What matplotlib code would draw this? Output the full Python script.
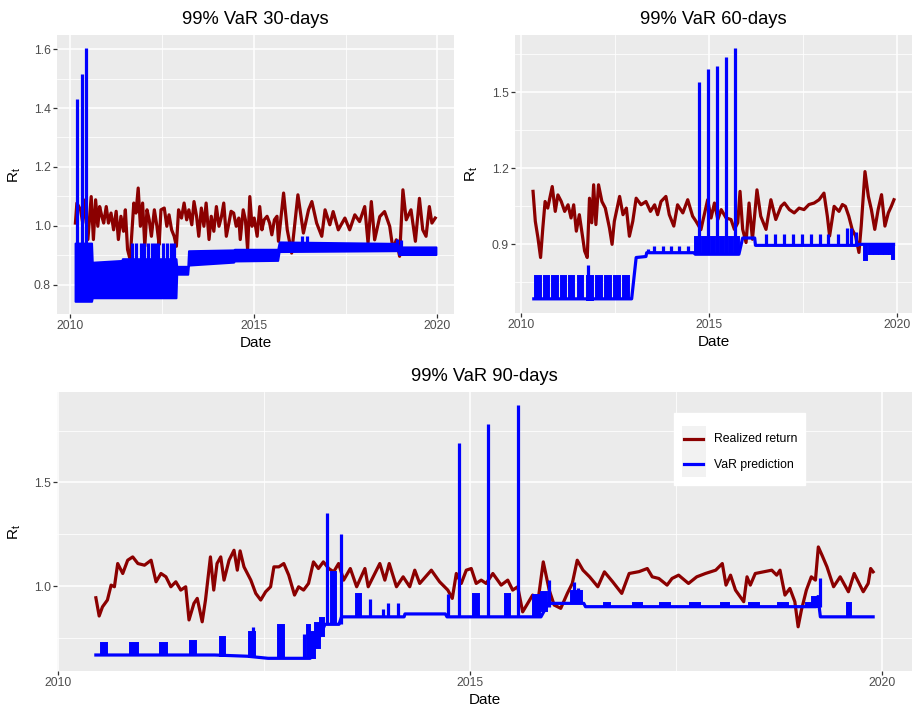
import numpy as np
import matplotlib
matplotlib.use("Agg")
import matplotlib.pyplot as plt
from matplotlib.lines import Line2D
from matplotlib.patches import Rectangle
from matplotlib.legend_handler import HandlerBase
from matplotlib.ticker import FixedLocator, FormatStrFormatter

plt.rcParams['font.family'] = ['Liberation Sans', 'DejaVu Sans']
plt.rcParams['mathtext.fontset'] = 'custom'
plt.rcParams['mathtext.rm'] = 'Liberation Sans'
plt.rcParams['mathtext.it'] = 'Liberation Sans:italic'

RED = '#8B0000'
BLUE = '#0000FF'

# ---------------- 30-day window ----------------
r30_t = [2010.14, 2010.18, 2010.28, 2010.34, 2010.41, 2010.48, 2010.57, 2010.63, 2010.69, 2010.75,
         2010.80, 2010.86, 2010.91, 2010.98, 2011.04, 2011.11, 2011.18, 2011.25, 2011.31, 2011.38,
         2011.45, 2011.50, 2011.56, 2011.63, 2011.73, 2011.79, 2011.85, 2011.91, 2011.97, 2012.03,
         2012.09, 2012.15, 2012.21, 2012.29, 2012.36, 2012.42, 2012.47, 2012.56, 2012.63, 2012.69,
         2012.76, 2012.83, 2012.89, 2012.95, 2013.03, 2013.10, 2013.17, 2013.23, 2013.31, 2013.37,
         2013.44, 2013.50, 2013.57, 2013.64, 2013.70, 2013.78, 2013.84, 2013.91, 2013.98, 2014.05,
         2014.12, 2014.18, 2014.25, 2014.32, 2014.38, 2014.45, 2014.52, 2014.59, 2014.63, 2014.71,
         2014.77, 2014.83, 2014.89, 2014.95, 2015.01, 2015.09, 2015.16, 2015.22, 2015.28, 2015.36,
         2015.43, 2015.49, 2015.56, 2015.63, 2015.67, 2015.81, 2015.91, 2016.03, 2016.20, 2016.35,
         2016.49, 2016.58, 2016.71, 2016.85, 2016.94, 2017.07, 2017.16, 2017.30, 2017.48, 2017.61,
         2017.75, 2017.88, 2018.02, 2018.11, 2018.20, 2018.29, 2018.43, 2018.56, 2018.70, 2018.79,
         2018.88, 2018.97, 2019.06, 2019.15, 2019.28, 2019.40, 2019.51, 2019.60, 2019.69, 2019.78,
         2019.85, 2019.94]
r30_v = [1.009, 1.077, 1.054, 1.009, 1.088, 0.953, 1.099, 0.953, 1.088, 0.998,
         1.065, 1.032, 1.009, 1.065, 1.009, 1.043, 0.986, 1.049, 0.953, 1.032,
         0.981, 1.054, 0.919, 0.885, 1.077, 1.043, 1.128, 0.998, 1.077, 0.930,
         1.054, 1.020, 0.964, 1.054, 0.998, 0.936, 1.054, 1.060, 0.998, 1.037,
         0.986, 0.964, 0.930, 1.054, 1.026, 1.077, 1.020, 1.054, 1.003, 1.082,
         1.032, 0.964, 1.060, 0.998, 1.077, 0.953, 1.032, 0.981, 1.065, 0.998,
         1.032, 1.077, 0.964, 1.009, 1.049, 1.043, 0.998, 1.026, 0.953, 1.054,
         1.020, 0.919, 1.099, 0.998, 1.026, 0.964, 1.065, 0.986, 1.020, 1.032,
         1.009, 0.969, 1.020, 1.032, 0.947, 1.111, 0.986, 0.907, 1.105, 0.975,
         1.054, 1.082, 1.009, 0.964, 1.054, 1.003, 1.048, 0.986, 1.026, 0.986,
         1.037, 1.014, 1.065, 0.941, 1.082, 0.952, 1.031, 1.048, 0.998, 0.919,
         0.952, 0.896, 1.122, 1.020, 1.054, 0.947, 1.093, 0.986, 0.964, 1.065,
         1.009, 1.026]

# envelope of the fast-oscillating 30-day VaR path
band30_t = [2010.13, 2010.58, 2010.60, 2011.40, 2011.42, 2012.88, 2012.90, 2013.20,
            2013.22, 2014.45, 2014.47, 2015.65, 2015.69, 2018.92, 2018.95, 2019.96]
band30_lo = [0.743, 0.743, 0.755, 0.755, 0.755, 0.755, 0.835, 0.835,
             0.866, 0.876, 0.880, 0.882, 0.912, 0.915, 0.902, 0.902]
band30_hi = [0.941, 0.941, 0.876, 0.882, 0.888, 0.888, 0.862, 0.862,
             0.915, 0.918, 0.920, 0.920, 0.945, 0.940, 0.928, 0.928]

spike30_t = [2010.18, 2010.32, 2010.44, 2011.68, 2011.80, 2011.92, 2012.02, 2012.11, 2012.22,
             2012.31, 2012.40, 2012.52, 2012.64, 2012.75, 2012.82, 2016.32, 2016.46, 2018.90, 2019.01]
spike30_lo = [0.743, 0.743, 0.743, 0.888, 0.888, 0.888, 0.888, 0.888, 0.888,
              0.888, 0.888, 0.888, 0.888, 0.888, 0.888, 0.945, 0.945, 0.940, 0.928]
spike30_hi = [1.430, 1.517, 1.605, 0.941, 0.941, 0.941, 0.941, 0.941, 0.941,
              0.941, 0.941, 0.941, 0.941, 0.941, 0.941, 0.964, 0.964, 0.955, 0.950]

# ---------------- 60-day window ----------------
r60_t = [2010.33, 2010.39, 2010.46, 2010.53, 2010.59, 2010.65, 2010.72, 2010.84, 2010.92, 2010.99,
         2011.08, 2011.17, 2011.26, 2011.34, 2011.41, 2011.48, 2011.56, 2011.65, 2011.70, 2011.77,
         2011.83, 2011.89, 2011.94, 2012.00, 2012.07, 2012.16, 2012.25, 2012.36, 2012.43, 2012.49,
         2012.63, 2012.72, 2012.81, 2012.89, 2012.98, 2013.07, 2013.20, 2013.33, 2013.45, 2013.56,
         2013.64, 2013.73, 2013.86, 2013.95, 2014.07, 2014.17, 2014.31, 2014.44, 2014.57, 2014.66,
         2014.79, 2014.97, 2015.06, 2015.15, 2015.24, 2015.33, 2015.46, 2015.59, 2015.68, 2015.77,
         2015.83, 2015.90, 2015.99, 2016.07, 2016.16, 2016.28, 2016.38, 2016.52, 2016.65, 2016.78,
         2016.92, 2017.01, 2017.14, 2017.27, 2017.40, 2017.53, 2017.66, 2017.80, 2017.93, 2018.06,
         2018.15, 2018.21, 2018.33, 2018.46, 2018.55, 2018.63, 2018.72, 2018.81, 2018.90, 2018.99,
         2019.05, 2019.15, 2019.24, 2019.32, 2019.41, 2019.50, 2019.59, 2019.68, 2019.77, 2019.85,
         2019.92]
r60_v = [1.109, 0.991, 0.926, 0.848, 0.965, 1.069, 1.043, 1.128, 1.030, 1.095,
         1.069, 1.030, 1.056, 1.004, 1.056, 0.952, 1.017, 0.926, 0.874, 0.848,
         1.082, 0.985, 1.135, 0.978, 1.135, 1.069, 1.043, 0.965, 0.900, 0.991,
         1.089, 1.017, 1.043, 0.932, 0.991, 1.082, 1.056, 1.069, 1.030, 1.056,
         1.017, 1.069, 1.089, 1.017, 0.972, 1.056, 1.024, 1.076, 1.011, 0.991,
         0.958, 1.076, 1.004, 1.063, 0.998, 1.037, 1.004, 0.998, 0.959, 0.985,
         1.109, 0.959, 0.907, 1.063, 0.920, 1.115, 1.011, 0.959, 1.076, 0.998,
         1.050, 1.063, 1.037, 1.024, 1.043, 1.037, 1.057, 1.063, 1.076, 1.102,
         1.011, 0.933, 1.050, 1.030, 1.057, 1.050, 1.011, 0.959, 0.933, 0.868,
         0.972, 1.187, 1.089, 1.037, 0.959, 1.037, 1.096, 0.972, 1.024, 1.050,
         1.076]

var60_t = [2010.35, 2012.95, 2013.02, 2013.07, 2013.33, 2013.35, 2014.62, 2014.64,
           2015.80, 2015.90, 2016.22, 2016.24, 2018.96, 2018.98, 2019.91]
var60_v = [0.685, 0.685, 0.780, 0.848, 0.852, 0.867, 0.867, 0.861,
           0.861, 0.925, 0.925, 0.896, 0.896, 0.900, 0.900]

block60_start = [2010.39, 2010.62, 2010.84, 2011.06, 2011.28, 2011.52, 2011.77, 2012.01, 2012.25,
                 2012.48, 2012.71, 2014.64, 2014.82, 2015.06, 2015.30, 2015.53, 2015.72,
                 2019.12, 2019.26, 2019.40, 2019.53, 2019.66, 2019.79, 2019.86]
block60_end = [2010.53, 2010.76, 2010.99, 2011.21, 2011.43, 2011.67, 2011.92, 2012.16, 2012.41,
               2012.63, 2012.89, 2014.75, 2014.94, 2015.17, 2015.41, 2015.65, 2015.80,
               2019.21, 2019.36, 2019.49, 2019.62, 2019.75, 2019.86, 2019.91]
block60_lo = [0.685, 0.685, 0.685, 0.685, 0.685, 0.685, 0.679, 0.685, 0.685,
              0.685, 0.685, 0.861, 0.861, 0.861, 0.861, 0.861, 0.861,
              0.839, 0.861, 0.861, 0.861, 0.861, 0.861, 0.844]
block60_hi = [0.776, 0.776, 0.776, 0.776, 0.776, 0.776, 0.776, 0.776, 0.776,
              0.776, 0.776, 0.930, 0.930, 0.930, 0.930, 0.930, 0.930,
              0.900, 0.900, 0.900, 0.900, 0.900, 0.900, 0.900]

spike60_t = [2011.79, 2013.38, 2013.55, 2013.78, 2014.00, 2014.22, 2014.44,
             2014.74, 2014.98, 2015.22, 2015.45, 2015.69,
             2016.53, 2016.76, 2017.00, 2017.24, 2017.47, 2017.71, 2017.95, 2018.18,
             2018.42, 2018.66, 2018.77, 2018.90]
spike60_lo = [0.679, 0.867, 0.867, 0.867, 0.867, 0.867, 0.867,
              0.861, 0.861, 0.861, 0.861, 0.861,
              0.896, 0.896, 0.896, 0.896, 0.896, 0.896, 0.896, 0.896,
              0.896, 0.896, 0.896, 0.896]
spike60_hi = [0.817, 0.880, 0.893, 0.893, 0.893, 0.893, 0.893,
              1.539, 1.591, 1.602, 1.640, 1.676,
              0.939, 0.939, 0.939, 0.939, 0.939, 0.939, 0.939, 0.939,
              0.939, 0.965, 0.965, 0.950]

# ---------------- 90-day window ----------------
r90_t = [2010.46, 2010.50, 2010.54, 2010.60, 2010.645, 2010.685, 2010.725, 2010.786, 2010.846, 2010.907,
         2010.97, 2011.05, 2011.13, 2011.19, 2011.25, 2011.31, 2011.37, 2011.43, 2011.49, 2011.55,
         2011.59, 2011.65, 2011.69, 2011.75, 2011.79, 2011.85, 2011.89, 2011.93, 2011.975, 2012.015,
         2012.076, 2012.136, 2012.176, 2012.21, 2012.257, 2012.34, 2012.40, 2012.46, 2012.52, 2012.58,
         2012.62, 2012.68, 2012.74, 2012.80, 2012.87, 2012.92, 2012.98, 2013.04, 2013.10, 2013.16,
         2013.22, 2013.285, 2013.345, 2013.405, 2013.466, 2013.547, 2013.624, 2013.724, 2013.764, 2013.845,
         2013.905, 2013.966, 2014.019, 2014.107, 2014.188, 2014.268, 2014.329, 2014.389, 2014.53, 2014.63,
         2014.73, 2014.784, 2014.833, 2014.893, 2014.954, 2015.014, 2015.074, 2015.135, 2015.195, 2015.276,
         2015.377, 2015.457, 2015.517, 2015.578, 2015.638, 2015.699, 2015.759, 2015.82, 2015.888, 2015.96,
         2016.02, 2016.10, 2016.18, 2016.24, 2016.30, 2016.37, 2016.45, 2016.55, 2016.63, 2016.73,
         2016.84, 2016.93, 2017.05, 2017.15, 2017.21, 2017.29, 2017.39, 2017.45, 2017.53, 2017.65,
         2017.75, 2017.855, 2017.98, 2018.06, 2018.105, 2018.16, 2018.22, 2018.32, 2018.36, 2018.40,
         2018.46, 2018.56, 2018.66, 2018.72, 2018.76, 2018.82, 2018.88, 2018.94, 2018.98, 2019.02,
         2019.08, 2019.14, 2019.19, 2019.225, 2019.27, 2019.33, 2019.41, 2019.49, 2019.59, 2019.66,
         2019.71, 2019.77, 2019.83, 2019.86, 2019.89]
r90_v = [0.944, 0.856, 0.900, 0.933, 1.005, 0.997, 1.109, 1.061, 1.125, 1.141,
         1.109, 1.101, 1.125, 1.021, 1.061, 1.045, 0.997, 1.021, 0.981, 0.997,
         0.837, 0.917, 0.941, 0.828, 0.933, 1.141, 0.981, 1.109, 1.141, 1.029,
         1.125, 1.173, 1.077, 1.170, 1.093, 1.029, 0.965, 0.933, 0.973, 0.997,
         1.093, 1.093, 1.109, 1.053, 0.957, 0.997, 0.981, 1.013, 1.117, 1.085,
         1.117, 1.085, 1.069, 1.109, 1.029, 1.085, 0.997, 1.085, 0.997, 1.061,
         1.109, 1.029, 1.109, 0.997, 1.045, 0.997, 1.077, 1.013, 1.077, 1.021,
         0.981, 0.941, 1.061, 1.013, 1.077, 1.085, 1.013, 1.029, 1.013, 1.061,
         1.005, 1.029, 0.981, 0.997, 0.876, 0.917, 0.957, 0.917, 1.117, 0.981,
         0.909, 0.893, 0.965, 1.013, 1.125, 1.077, 1.045, 0.997, 1.069, 1.021,
         0.965, 1.061, 1.070, 1.085, 1.045, 1.037, 1.005, 1.037, 1.053, 1.013,
         1.045, 1.061, 1.077, 1.109, 1.005, 1.053, 0.981, 0.925, 1.045, 1.005,
         1.061, 1.069, 1.077, 1.053, 1.077, 0.957, 0.989, 0.925, 0.804, 0.885,
         0.981, 1.045, 1.029, 1.189, 1.149, 1.093, 0.997, 1.045, 0.973, 1.061,
         1.021, 0.973, 1.013, 1.085, 1.069]

var90_t = [2010.46, 2011.90, 2012.30, 2012.55, 2013.06, 2013.24, 2013.41, 2013.44, 2014.20, 2014.21,
           2014.70, 2014.72, 2015.86, 2015.95, 2016.38, 2016.40, 2019.20, 2019.22, 2019.25, 2019.89]
var90_v = [0.668, 0.668, 0.662, 0.652, 0.652, 0.816, 0.816, 0.852, 0.852, 0.866,
           0.866, 0.852, 0.852, 0.917, 0.917, 0.901, 0.901, 0.950, 0.852, 0.852]

block90_start = [2010.52, 2010.88, 2011.24, 2011.60, 2011.96, 2012.32, 2012.67, 2013.02, 2013.06,
                 2013.12, 2013.18, 2013.31, 2013.62, 2015.04, 2015.42, 2015.76, 2015.86, 2016.22,
                 2016.62, 2016.98, 2017.31, 2017.67, 2018.04, 2018.38, 2018.74, 2019.07, 2019.15,
                 2019.57]
block90_end = [2010.60, 2010.97, 2011.32, 2011.67, 2012.03, 2012.39, 2012.74, 2013.06, 2013.12,
               2013.18, 2013.23, 2013.37, 2013.68, 2015.11, 2015.48, 2015.85, 2015.93, 2016.36,
               2016.70, 2017.08, 2017.43, 2017.79, 2018.14, 2018.50, 2018.86, 2019.15, 2019.21,
               2019.62]
block90_lo = [0.668, 0.668, 0.668, 0.668, 0.665, 0.660, 0.652, 0.652, 0.652,
              0.700, 0.760, 0.816, 0.852, 0.852, 0.852, 0.852, 0.880, 0.917,
              0.901, 0.901, 0.901, 0.901, 0.901, 0.901, 0.901, 0.901, 0.901,
              0.852]
block90_hi = [0.724, 0.724, 0.724, 0.737, 0.753, 0.780, 0.813, 0.813, 0.780,
              0.820, 0.845, 1.070, 0.962, 0.960, 0.960, 0.955, 0.970, 0.975,
              0.920, 0.920, 0.920, 0.920, 0.920, 0.920, 0.920, 0.920, 0.950,
              0.917]

spike90_t = [2012.37, 2012.98, 2013.27, 2013.44, 2013.78, 2013.94, 2014.01, 2014.13, 2014.73,
             2014.86, 2015.22, 2015.587, 2015.96, 2016.26, 2016.31, 2019.24]
spike90_lo = [0.660, 0.652, 0.816, 0.816, 0.852, 0.852, 0.852, 0.852, 0.852,
              0.852, 0.852, 0.852, 0.900, 0.917, 0.917, 0.901]
spike90_hi = [0.801, 0.769, 1.354, 1.250, 0.940, 0.890, 0.920, 0.920, 0.960,
              1.689, 1.782, 1.875, 1.030, 1.020, 0.990, 1.037]

LW = 2.3


def expand(lo, hi, frac=0.05):
    pad = (hi - lo) * frac
    return lo - pad, hi + pad


def gg_axes(ax, title, xs, ys, ymajor, yminor):
    ax.set_facecolor('#EBEBEB')
    for s in ax.spines.values():
        s.set_visible(False)
    ax.set_xlim(*expand(min(xs), max(xs)))
    ax.set_ylim(*expand(min(ys), max(ys)))
    ax.xaxis.set_major_locator(FixedLocator([2010, 2015, 2020]))
    ax.xaxis.set_minor_locator(FixedLocator([2012.5, 2017.5]))
    ax.xaxis.set_major_formatter(FormatStrFormatter('%d'))
    ax.yaxis.set_major_locator(FixedLocator(ymajor))
    ax.yaxis.set_minor_locator(FixedLocator(yminor))
    ax.yaxis.set_major_formatter(FormatStrFormatter('%.1f'))
    ax.grid(which='major', color='white', lw=1.1)
    ax.grid(which='minor', color='white', lw=0.55)
    ax.set_axisbelow(True)
    ax.tick_params(which='major', length=3, width=0.9, color='#333333',
                   labelsize=8.8, labelcolor='#4D4D4D', pad=1.5)
    ax.tick_params(which='minor', length=0)
    ax.set_title(title, fontsize=13.2, pad=8)
    ax.set_xlabel('Date', fontsize=11)
    ax.set_ylabel(r'$\mathrm{R}_{\mathrm{t}}$', fontsize=11)


def draw_blocks(ax, start, end, lo, hi):
    start, end, lo, hi = map(np.asarray, (start, end, lo, hi))
    ax.bar(start, hi - lo, width=end - start, bottom=lo, align='edge',
           color=BLUE, edgecolor=BLUE, lw=1.4, zorder=3)


fig = plt.figure(figsize=(9.13, 7.07), dpi=100)
ax1 = fig.add_axes([57 / 913, 1 - 314 / 707, 397 / 913, 279 / 707])
ax2 = fig.add_axes([515 / 913, 1 - 313 / 707, 397 / 913, 278 / 707])
ax3 = fig.add_axes([57 / 913, 1 - 671 / 707, 855 / 913, 279 / 707])

# 30 days
ax1.plot(r30_t, r30_v, color=RED, lw=LW, zorder=2)
ax1.fill_between(band30_t, band30_lo, band30_hi, color=BLUE, edgecolor=BLUE, lw=1.4, zorder=3)
ax1.vlines(spike30_t, spike30_lo, spike30_hi, color=BLUE, lw=LW, zorder=3)
gg_axes(ax1, '99% VaR 30-days', r30_t + band30_t,
        r30_v + band30_lo + band30_hi + spike30_hi,
        [0.8, 1.0, 1.2, 1.4, 1.6], [0.7, 0.9, 1.1, 1.3, 1.5])

# 60 days
ax2.plot(r60_t, r60_v, color=RED, lw=LW, zorder=2)
ax2.plot(var60_t, var60_v, color=BLUE, lw=LW, zorder=3)
draw_blocks(ax2, block60_start, block60_end, block60_lo, block60_hi)
ax2.vlines(spike60_t, spike60_lo, spike60_hi, color=BLUE, lw=LW, zorder=3)
gg_axes(ax2, '99% VaR 60-days', r60_t + var60_t,
        r60_v + var60_v + block60_lo + spike60_hi,
        [0.9, 1.2, 1.5], [0.75, 1.05, 1.35, 1.65])

# 90 days
ax3.plot(r90_t, r90_v, color=RED, lw=LW, zorder=2)
ax3.plot(var90_t, var90_v, color=BLUE, lw=LW, zorder=3)
draw_blocks(ax3, block90_start, block90_end, block90_lo, block90_hi)
ax3.vlines(spike90_t, spike90_lo, spike90_hi, color=BLUE, lw=LW, zorder=3)
gg_axes(ax3, '99% VaR 90-days', r90_t + var90_t,
        r90_v + var90_v + spike90_hi,
        [1.0, 1.5], [0.75, 1.25, 1.75])

ax1.xaxis.set_label_coords(0.5, -0.078)
ax2.xaxis.set_label_coords(0.5, -0.078)
ax3.xaxis.set_label_coords(0.5, -0.078)
ax1.yaxis.set_label_coords(-0.085, 0.5)
ax2.yaxis.set_label_coords(-0.088, 0.5)
ax3.yaxis.set_label_coords(-0.040, 0.5)


class KeyHandler(HandlerBase):
    # ggplot-like legend key: grey square with a short line across it
    def create_artists(self, legend, orig_handle, xdescent, ydescent,
                       width, height, fontsize, trans):
        key = Rectangle((-xdescent, -ydescent), width, height,
                        facecolor='#F2F2F2', edgecolor='none', transform=trans)
        inset = 0.1 * width
        y = -ydescent + height / 2
        line = Line2D([-xdescent + inset, -xdescent + width - inset], [y, y],
                      color=orig_handle.get_color(), lw=orig_handle.get_linewidth(),
                      transform=trans)
        return [key, line]


handles = [Line2D([], [], color=RED, lw=LW), Line2D([], [], color=BLUE, lw=LW)]
leg = ax3.legend(handles, ['Realized return', 'VaR prediction'],
                 loc='upper left', bbox_to_anchor=((674 - 57) / 855, 1 - (413 - 392) / 279),
                 borderaxespad=0, frameon=True, facecolor='white', edgecolor='white',
                 fancybox=False, framealpha=1, fontsize=8.8, handlelength=1.97,
                 handleheight=2.85, labelspacing=0, handletextpad=0.65, borderpad=0.63,
                 title=' ', title_fontsize=4.5,
                 handler_map={Line2D: KeyHandler()})
leg.set_zorder(10)

fig.savefig('out.png', dpi=100)
